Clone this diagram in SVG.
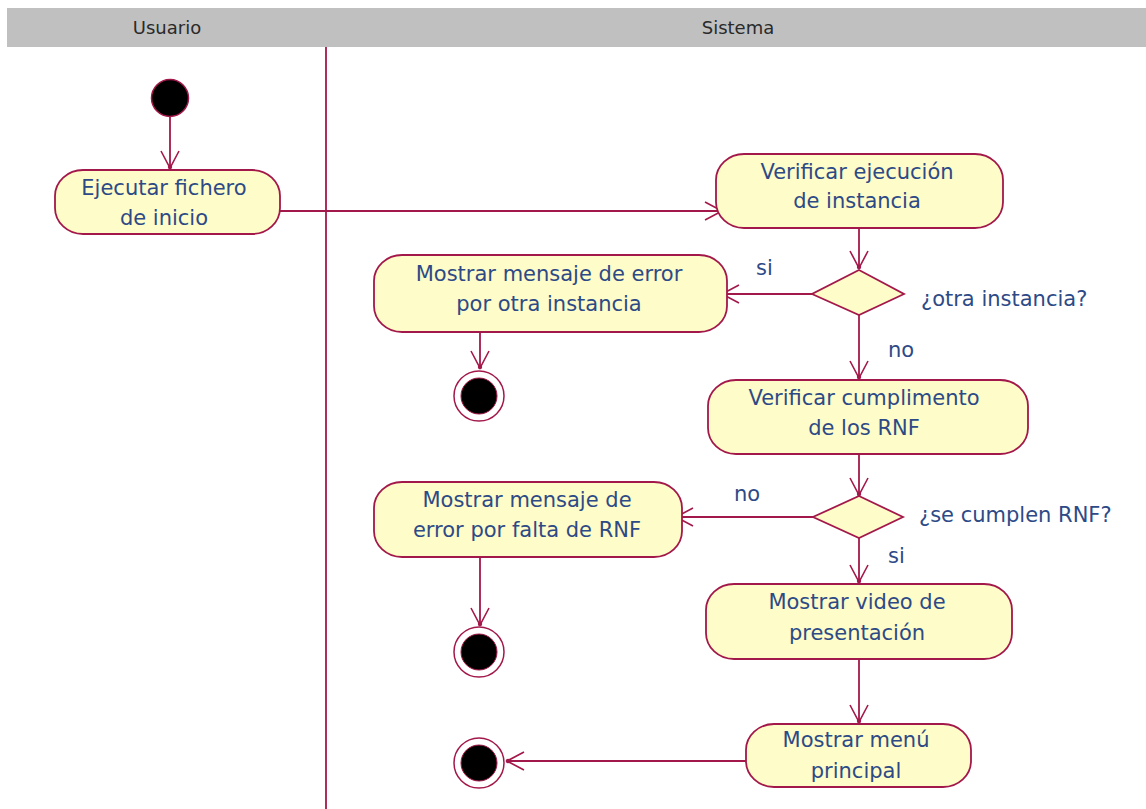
<svg xmlns="http://www.w3.org/2000/svg" width="1146" height="809" viewBox="0 0 1146 809">
  <style>
    .lane-head { fill: #C0C0C0; }
    .lane-title { font-family: "DejaVu Sans", sans-serif; font-size: 18px; fill: #2a2a2a; text-anchor: middle; }
    .lane-line { stroke: #A3184A; stroke-width: 1.8; }
    .action { fill: #FEFCC8; stroke: #A3184A; stroke-width: 1.8; }
    .decision { fill: #FEFCC8; stroke: #A3184A; stroke-width: 1.8; }
    .txt { font-family: "DejaVu Sans", sans-serif; font-size: 21px; fill: #2D4A86; text-anchor: middle; }
    .lbl { font-family: "DejaVu Sans", sans-serif; font-size: 21px; fill: #2D4A86; }
    .flow { stroke: #A3184A; stroke-width: 1.8; fill: none; marker-end: url(#open-arrow); }
    .start { fill: #000; stroke: #A3184A; stroke-width: 1.5; }
    .final-ring { fill: #fff; stroke: #A3184A; stroke-width: 1.5; }
    .final-dot { fill: #000; stroke: #A3184A; stroke-width: 1; }
  </style>
  <defs>
    <marker id="open-arrow" markerUnits="userSpaceOnUse" markerWidth="24" markerHeight="24" viewBox="-20 -12 24 24" refX="0" refY="0" orient="auto">
      <path d="M-17,-9 L0,0 L-17,9" fill="none" stroke="#A3184A" stroke-width="1.6"/>
      <circle cx="-1" cy="0" r="2.2" fill="#A3184A"/>
    </marker>
  </defs>

  <rect width="1146" height="809" fill="#fff"/>

  <!-- swimlanes -->
  <g id="lanes">
    <rect class="lane-head" x="7" y="8" width="1139" height="39"/>
    <text class="lane-title" x="167" y="34">Usuario</text>
    <text class="lane-title" x="738" y="34">Sistema</text>
    <line class="lane-line" x1="326" y1="47" x2="326" y2="809"/>
  </g>

  <!-- connectors -->
  <g id="connectors">
    <line class="flow" x1="170" y1="117" x2="170" y2="168"/>
    <line class="flow" x1="280" y1="211" x2="722" y2="211"/>
    <line class="flow" x1="859" y1="228" x2="859" y2="268"/>
    <line class="flow" x1="812" y1="294" x2="722" y2="294"/>
    <line class="flow" x1="480" y1="332" x2="480" y2="368"/>
    <line class="flow" x1="859" y1="315" x2="859" y2="378"/>
    <line class="flow" x1="859" y1="454" x2="859" y2="495"/>
    <line class="flow" x1="813" y1="517" x2="676" y2="517"/>
    <line class="flow" x1="480" y1="557" x2="480" y2="625"/>
    <line class="flow" x1="859" y1="538" x2="859" y2="582"/>
    <line class="flow" x1="859" y1="659" x2="859" y2="722"/>
    <line class="flow" x1="746" y1="761" x2="507" y2="761"/>
    <text class="lbl" x="756" y="275">si</text>
    <text class="lbl" x="888" y="357">no</text>
    <text class="lbl" x="734" y="501">no</text>
    <text class="lbl" x="888" y="563">si</text>
  </g>

  <!-- start -->
  <g id="start">
    <circle class="start" cx="170" cy="98" r="18.5"/>
  </g>

  <!-- actions -->
  <g id="ejecutar-fichero">
    <rect class="action" x="55" y="170" width="225" height="64" rx="28" ry="26"/>
    <text class="txt" x="164" y="195">Ejecutar fichero</text>
    <text class="txt" x="164" y="225">de inicio</text>
  </g>

  <g id="verificar-ejecucion">
    <rect class="action" x="716" y="154" width="287" height="74" rx="28" ry="26"/>
    <text class="txt" x="857" y="179">Verificar ejecución</text>
    <text class="txt" x="857" y="208">de instancia</text>
  </g>

  <g id="decision-instancia">
    <polygon class="decision" points="859,270 904,294 859,315 812,294"/>
    <text class="lbl" x="921" y="306">¿otra instancia?</text>
  </g>

  <g id="error-instancia">
    <rect class="action" x="374" y="255" width="353" height="77" rx="28" ry="26"/>
    <text class="txt" x="549" y="281">Mostrar mensaje de error</text>
    <text class="txt" x="549" y="311">por otra instancia</text>
  </g>

  <g id="fin-instancia">
    <circle class="final-ring" cx="479" cy="396" r="25"/>
    <circle class="final-dot" cx="479" cy="396" r="18"/>
  </g>

  <g id="verificar-rnf">
    <rect class="action" x="708" y="380" width="320" height="74" rx="28" ry="26"/>
    <text class="txt" x="864" y="405">Verificar cumplimento</text>
    <text class="txt" x="864" y="435">de los RNF</text>
  </g>

  <g id="decision-rnf">
    <polygon class="decision" points="859,496 903,517 859,538 813,517"/>
    <text class="lbl" x="919" y="522">¿se cumplen RNF?</text>
  </g>

  <g id="error-rnf">
    <rect class="action" x="374" y="482" width="308" height="75" rx="28" ry="26"/>
    <text class="txt" x="527" y="507">Mostrar mensaje de</text>
    <text class="txt" x="527" y="537">error por falta de RNF</text>
  </g>

  <g id="fin-rnf">
    <circle class="final-ring" cx="479" cy="652" r="25"/>
    <circle class="final-dot" cx="479" cy="652" r="18"/>
  </g>

  <g id="video-presentacion">
    <rect class="action" x="706" y="584" width="306" height="75" rx="28" ry="26"/>
    <text class="txt" x="857" y="609">Mostrar video de</text>
    <text class="txt" x="857" y="640">presentación</text>
  </g>

  <g id="menu-principal">
    <rect class="action" x="746" y="724" width="225" height="63" rx="28" ry="26"/>
    <text class="txt" x="856" y="747">Mostrar menú</text>
    <text class="txt" x="856" y="778">principal</text>
  </g>

  <g id="fin-menu">
    <circle class="final-ring" cx="479" cy="763" r="25"/>
    <circle class="final-dot" cx="479" cy="763" r="18"/>
  </g>
</svg>
